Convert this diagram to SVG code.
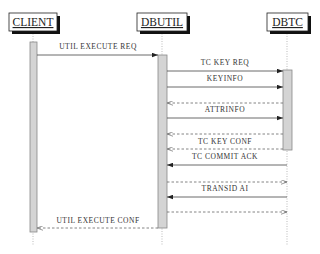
<svg xmlns="http://www.w3.org/2000/svg" width="320" height="254" viewBox="0 0 320 254">
<defs>
<marker id="fa" viewBox="0 0 8 6" refX="8" refY="3" markerWidth="6" markerHeight="5" orient="auto" markerUnits="userSpaceOnUse"><path d="M0,0 L8,3 L0,6 Z" fill="#222"/></marker>
<marker id="oa" viewBox="0 0 8 6" refX="8" refY="3" markerWidth="6" markerHeight="5" orient="auto" markerUnits="userSpaceOnUse"><path d="M0,0 L8,3 L0,6" fill="none" stroke="#555" stroke-width="0.8"/></marker>
<style>
.box{fill:#fff;stroke:#222;stroke-width:0.8}
.shadow{fill:#111}
.title{font-family:"Liberation Serif",serif;font-size:11.5px;fill:#222;text-anchor:middle;text-decoration:underline}
.life{stroke:#aaa;stroke-width:0.8;stroke-dasharray:1,1.5;fill:none}
.act{fill:#d4d4d4;stroke:#888;stroke-width:0.8}
.msg{stroke:#444;stroke-width:0.8;fill:none;marker-end:url(#fa)}
.ret{stroke:#666;stroke-width:0.8;fill:none;stroke-dasharray:2.5,2;marker-end:url(#oa)}
.lbl{font-family:"Liberation Serif",serif;font-size:7.5px;fill:#333;text-anchor:middle;letter-spacing:0.5px}
</style>
</defs>
<g id="lifelines">
<line class="life" x1="33" y1="31" x2="33" y2="245"/>
<line class="life" x1="162" y1="31" x2="162" y2="245"/>
<line class="life" x1="287" y1="31" x2="287" y2="245"/>
</g>
<g id="CLIENT">
<rect class="shadow" x="12" y="16" width="48" height="18"/>
<rect class="box" x="9" y="13" width="48" height="18"/>
<text class="title" x="33" y="26">CLIENT</text>
<rect class="act" x="30" y="42" width="7" height="190"/>
</g>
<g id="DBUTIL">
<rect class="shadow" x="140" y="16" width="50" height="18"/>
<rect class="box" x="137" y="13" width="50" height="18"/>
<text class="title" x="162" y="26">DBUTIL</text>
<rect class="act" x="158" y="55" width="9" height="173"/>
</g>
<g id="DBTC">
<rect class="shadow" x="270" y="16" width="41" height="18"/>
<rect class="box" x="267" y="13" width="41" height="18"/>
<text class="title" x="287.5" y="26">DBTC</text>
<rect class="act" x="283" y="70" width="9" height="80"/>
</g>
<g id="connectors">
<line class="msg" x1="37" y1="55" x2="158" y2="55"/>
<text class="lbl" x="98" y="49">UTIL EXECUTE REQ</text>
<line class="msg" x1="167" y1="71" x2="283" y2="71"/>
<text class="lbl" x="225" y="65">TC KEY REQ</text>
<line class="msg" x1="167" y1="87" x2="283" y2="87"/>
<text class="lbl" x="225" y="81">KEYINFO</text>
<line class="ret" x1="283" y1="103" x2="167" y2="103"/>
<line class="msg" x1="167" y1="118" x2="283" y2="118"/>
<text class="lbl" x="225" y="112">ATTRINFO</text>
<line class="ret" x1="283" y1="134" x2="167" y2="134"/>
<line class="ret" x1="283" y1="149" x2="167" y2="149"/>
<text class="lbl" x="225" y="144">TC KEY CONF</text>
<line class="msg" x1="287" y1="165" x2="167" y2="165"/>
<text class="lbl" x="225" y="159">TC COMMIT ACK</text>
<line class="ret" x1="167" y1="182" x2="287" y2="182"/>
<line class="msg" x1="287" y1="197" x2="167" y2="197"/>
<text class="lbl" x="225" y="191">TRANSID AI</text>
<line class="ret" x1="167" y1="212" x2="287" y2="212"/>
<line class="ret" x1="158" y1="228" x2="37" y2="228"/>
<text class="lbl" x="98" y="223">UTIL EXECUTE CONF</text>
</g>
</svg>
